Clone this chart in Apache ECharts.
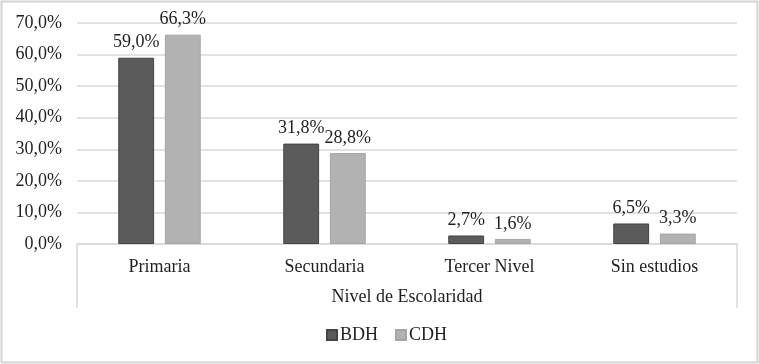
<!DOCTYPE html>
<html><head><meta charset="utf-8">
<script src="https://cdn.jsdelivr.net/npm/echarts@6/dist/echarts.min.js"></script>
<style>html,body{margin:0;padding:0;background:#fff}#c{width:759px;height:364px}</style>
</head><body><div id="c"></div>
<script>
const categories = ['Primaria', 'Secundaria', 'Tercer Nivel', 'Sin estudios'];
const bdh = [59.0, 31.8, 2.7, 6.5];
const cdh = [66.3, 28.8, 1.6, 3.3];
const seriesNames = ['BDH', 'CDH'];
const axisName = 'Nivel de Escolaridad';

const fmt = v => v.toFixed(1).replace('.', ',') + '%';
const font = '"Liberation Serif", "DejaVu Serif", serif';
const txt = '#1f1f1f';
const chart = echarts.init(document.getElementById('c'));
const L = 77, R = 737, T = 23, B = 244;
chart.setOption({
  backgroundColor: '#fff',
  animation: false,
  textStyle: { fontFamily: font },
  grid: { left: L, right: 759 - R, top: T, bottom: 364 - B },
  legend: {
    data: seriesNames, top: 326, left: 326,
    itemWidth: 10, itemHeight: 10, itemGap: 17,
    icon: 'rect', padding: 0,
    textStyle: { fontFamily: font, fontSize: 18, color: txt, padding: [0, 0, 0, -2] }
  },
  xAxis: {
    type: 'category', data: categories,
    axisLine: { lineStyle: { color: '#d9d9d9', width: 1.5 } },
    axisTick: { show: false },
    axisLabel: { fontFamily: font, fontSize: 18, color: txt, margin: 14 },
    name: axisName, nameLocation: 'middle', nameGap: 44,
    nameTextStyle: { fontFamily: font, fontSize: 18, color: txt }
  },
  yAxis: {
    type: 'value', min: 0, max: 70, interval: 10,
    axisLine: { show: false }, axisTick: { show: false },
    splitLine: { lineStyle: { color: '#d9d9d9', width: 1.5 } },
    axisLabel: { fontFamily: font, fontSize: 18, color: txt, margin: 15, formatter: v => fmt(v) }
  },
  series: [
    { name: seriesNames[0], type: 'bar', data: bdh, barGap: '30%', barCategoryGap: '50%',
      itemStyle: { color: '#5b5b5b', borderColor: '#444', borderWidth: 1 },
      label: { show: true, position: 'top', distance: 6, fontFamily: font, fontSize: 18, color: txt, formatter: p => fmt(p.value) } },
    { name: seriesNames[1], type: 'bar', data: cdh,
      itemStyle: { color: '#b2b2b2', borderColor: '#a5a5a5', borderWidth: 1 },
      label: { show: true, position: 'top', distance: 6, fontFamily: font, fontSize: 18, color: txt, formatter: p => fmt(p.value) } }
  ],
  graphic: [
    { type: 'rect', shape: { x: 1.5, y: 1.5, width: 756, height: 361 }, style: { fill: 'none', stroke: '#d4d4d4', lineWidth: 2 }, silent: true },
    { type: 'line', shape: { x1: L, y1: B, x2: L, y2: 308 }, style: { stroke: '#d9d9d9', lineWidth: 1.5 }, silent: true },
    { type: 'line', shape: { x1: R, y1: B, x2: R, y2: 308 }, style: { stroke: '#d9d9d9', lineWidth: 1.5 }, silent: true }
  ]
});
</script></body></html>
